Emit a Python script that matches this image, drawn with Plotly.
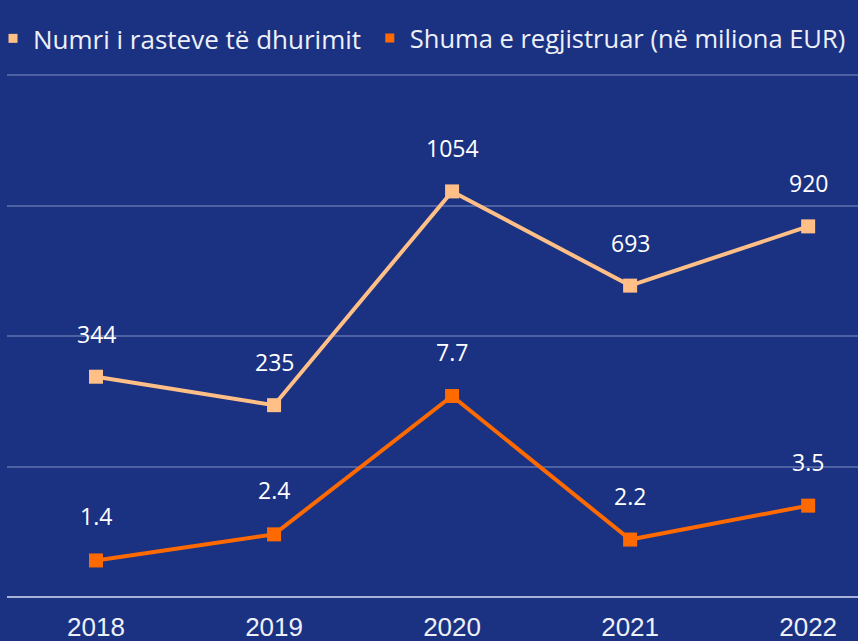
import plotly.graph_objects as go

years = [2018, 2019, 2020, 2021, 2022]
year_labels = ["2018", "2019", "2020", "2021", "2022"]
numri = [344, 235, 1054, 693, 920]
shuma = [1.4, 2.4, 7.7, 2.2, 3.5]
shuma_labels = ["1.4", "2.4", "7.7", "2.2", "3.5"]

name_numri = "Numri i rasteve të dhurimit"
name_shuma = "Shuma e regjistruar (në miliona EUR)"

c_light = "#FFBF87"
c_orange = "#FF6A00"
bg = "#1B3282"
grid = "#4E61A2"
label_font = dict(family="Open Sans, sans-serif", size=23, color="white")
legend_font = dict(family="Open Sans, sans-serif", size=26, color="#EEF0F8")
legend2_font = dict(family="Open Sans, sans-serif", size=25.5, color="#EEF0F8")

fig = go.Figure()
fig.add_trace(go.Scatter(x=years, y=numri, mode="lines+markers", showlegend=False,
                         line=dict(color=c_light, width=4),
                         marker=dict(symbol="square", size=14, color=c_light), yaxis="y"))
fig.add_trace(go.Scatter(x=years, y=shuma, mode="lines+markers", showlegend=False,
                         line=dict(color=c_orange, width=4),
                         marker=dict(symbol="square", size=14, color=c_orange), yaxis="y2"))
# legend entries
fig.add_trace(go.Scatter(x=[None], y=[None], mode="markers", name=name_numri, legend="legend",
                         marker=dict(symbol="square", size=9, color=c_light)))
fig.add_trace(go.Scatter(x=[None], y=[None], mode="markers", name=name_shuma, legend="legend2",
                         marker=dict(symbol="square", size=9, color=c_orange)))

for x, v in zip(years, numri):
    fig.add_annotation(x=x, y=v, xref="x", yref="y", text=str(v), showarrow=False,
                       yshift=43, font=label_font)
for x, v, t in zip(years, shuma, shuma_labels):
    fig.add_annotation(x=x, y=v, xref="x", yref="y2", text=t, showarrow=False,
                       yshift=44, font=label_font)

fig.update_layout(
    width=858, height=641,
    paper_bgcolor=bg, plot_bgcolor=bg,
    margin=dict(l=7, r=0, t=75, b=44, autoexpand=False),
    showlegend=True,
    legend=dict(orientation="h", x=0, xref="container", y=0.94, yref="container",
                yanchor="middle", font=legend_font, itemwidth=30, indentation=-7,
                bgcolor="rgba(0,0,0,0)"),
    legend2=dict(orientation="h", x=0.431, xref="container", y=0.94, yref="container",
                 yanchor="middle", font=legend2_font, itemwidth=30, bgcolor="rgba(0,0,0,0)"),
    xaxis=dict(range=[2017.5, 2022.28], tickvals=years, ticktext=year_labels,
               showgrid=False, zeroline=False, showline=False, ticks="",
               tickfont=dict(family="Liberation Sans, Arial", size=26, color="#EEF0F8"),
               ticklabelstandoff=12),
    yaxis=dict(range=[-500, 1500], tickvals=[-500, 0, 500, 1000, 1500], showticklabels=False,
               showgrid=True, gridcolor=grid, gridwidth=2, zeroline=False),
    yaxis2=dict(range=[0, 20], overlaying="y", side="right", showticklabels=False,
                showgrid=False, zeroline=False),
)
fig.add_shape(type="line", xref="paper", yref="paper", x0=0, x1=1, y0=1, y1=1,
              line=dict(color=grid, width=2))
fig.add_shape(type="line", xref="paper", yref="paper", x0=0, x1=1, y0=0, y1=0,
              line=dict(color="#A9B3D9", width=2))

fig.write_html("out.html", config={"displayModeBar": False},
               post_script="document.body.style.margin='0';document.body.style.overflow='hidden';")
